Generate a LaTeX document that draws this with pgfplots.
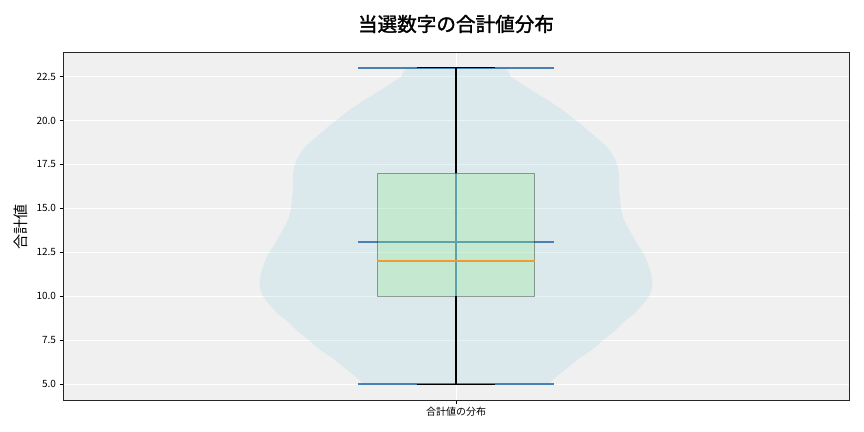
\documentclass[border=0pt]{standalone}
\usepackage{fontspec}
\setmainfont{Noto Sans CJK JP}
\newfontfamily\titlefont{Noto Sans CJK JP}[FakeBold=1.5]
\usepackage{pgfplots}
\usepackage{pgfplotstable}
\pgfplotsset{compat=1.18}

\definecolor{axbg}{RGB}{240,240,240}
\definecolor{violinc}{RGB}{173,216,230}
\definecolor{boxc}{RGB}{144,238,144}
\definecolor{vline}{RGB}{72,130,180}
\definecolor{medc}{RGB}{238,155,50}

% violin outline: side, value, half width in px of an axis 786px wide
\pgfplotstableread{
s  v    hw
1  5.0  92
1  5.5  102
1  6.0  113
1  6.5  124
1  7.0  137
1  7.5  147
1  8.0  158
1  8.5  167
1  9.0  178
1  9.5  186
1  10.0 193
1  10.5 196
1  11.0 196
1  11.5 194
1  12.0 191
1  12.5 187
1  13.0 181
1  13.5 176
1  14.0 171
1  14.5 167
1  15.0 165
1  15.5 164
1  16.0 163
1  16.5 163
1  17.0 163
1  17.5 161
1  18.0 157
1  18.5 151
1  19.0 141
1  19.5 131
1  20.0 120
1  20.5 109
1  21.0 96
1  21.5 82
1  22.0 68
1  22.5 55
1  23.0 43
-1 23.0 43
-1 22.5 55
-1 22.0 68
-1 21.5 82
-1 21.0 96
-1 20.5 109
-1 20.0 120
-1 19.5 131
-1 19.0 141
-1 18.5 151
-1 18.0 157
-1 17.5 161
-1 17.0 163
-1 16.5 163
-1 16.0 163
-1 15.5 164
-1 15.0 165
-1 14.5 167
-1 14.0 171
-1 13.5 176
-1 13.0 181
-1 12.5 187
-1 12.0 191
-1 11.5 194
-1 11.0 196
-1 10.5 196
-1 10.0 193
-1 9.5  186
-1 9.0  178
-1 8.5  167
-1 8.0  158
-1 7.5  147
-1 7.0  137
-1 6.5  124
-1 6.0  113
-1 5.5  102
-1 5.0  92
}\violin

\begin{document}
\begin{tikzpicture}
\begin{axis}[
    at={(63bp,32bp)}, anchor=south west,
    width=786bp, height=348bp, scale only axis,
    xmin=0.5, xmax=1.5,
    ymin=4.1, ymax=23.9,
    xtick={1}, xticklabels={合計値の分布},
    ytick={5,7.5,10,12.5,15,17.5,20,22.5},
    yticklabel style={/pgf/number format/.cd, fixed, fixed zerofill, precision=1},
    /pgf/number format/assume math mode=true,
    tick label style={font=\fontsize{10bp}{12bp}\selectfont},
    xtick pos=bottom, ytick pos=left,
    tick align=outside, major tick length=3.5bp,
    tick style={black, line width=0.8bp},
    axis line style={black!85, line width=0.8bp},
    axis background/.style={fill=axbg},
    xmajorgrids, ymajorgrids,
    major grid style={white, line width=1bp},
]
% violin body, cut at the extrema
\begin{scope}
\clip (axis cs:0.5,5) rectangle (axis cs:1.5,23);
\addplot[fill=violinc, fill opacity=0.3, draw=none, smooth, tension=0.5]
    table[x expr=1+\thisrow{s}*\thisrow{hw}/786, y=v]{\violin};
\end{scope}

% violin lines: extrema and mean
\addplot[vline, line width=2bp] coordinates {(1,5) (1,23)};
\addplot[vline, line width=2bp] coordinates {(0.875,23) (1.125,23)};
\addplot[vline, line width=2bp] coordinates {(0.875,5) (1.125,5)};
\addplot[vline, line width=2bp] coordinates {(0.875,13.08) (1.125,13.08)};

% box
\addplot[fill=boxc, fill opacity=0.3, draw=black, draw opacity=0.35, line width=0.8bp]
    coordinates {(0.9,10) (1.1,10) (1.1,17) (0.9,17) (0.9,10)};
\addplot[medc, line width=1.4bp] coordinates {(0.9,12) (1.1,12)};

% whiskers
\addplot[black, line width=1.2bp] coordinates {(1,5) (1,10)};
\addplot[black, line width=1.2bp] coordinates {(1,17) (1,23)};
\addplot[black, line width=1.2bp] coordinates {(0.95,5) (1.05,5)};
\addplot[black, line width=1.2bp] coordinates {(0.95,23) (1.05,23)};
\end{axis}
\node[font=\fontsize{19.6bp}{22bp}\selectfont\titlefont] at (456bp,408bp) {当選数字の合計値分布};
\node[rotate=90, font=\fontsize{15bp}{18bp}\selectfont] at (21bp,205bp) {合計値};
\path (0bp,0bp) rectangle (864bp,432bp);
\end{tikzpicture}
\end{document}
